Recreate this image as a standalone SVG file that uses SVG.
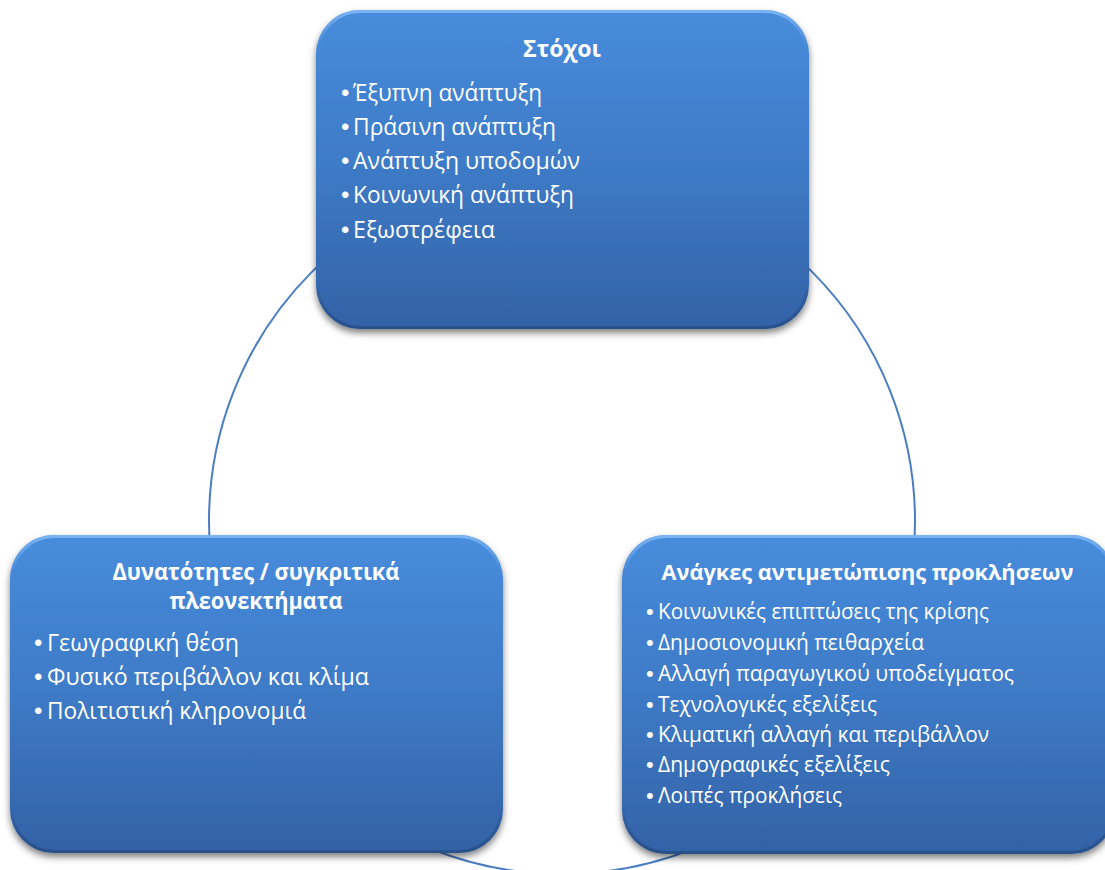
<svg xmlns="http://www.w3.org/2000/svg" width="1105" height="870" viewBox="0 0 1105 870">
<style>
.box{fill:url(#boxGrad);filter:url(#shadow)}
.bevel{fill:none;stroke:url(#bevelGrad);stroke-width:3}
.title{font-family:"Open Sans","Noto Sans","Liberation Sans",sans-serif;font-weight:bold;fill:#ffffff;text-anchor:middle}
.item{font-family:"Open Sans","Noto Sans","Liberation Sans",sans-serif;fill:#ffffff}
.b{font-family:"Liberation Sans",sans-serif;font-size:24px}
.br{font-family:"Liberation Sans",sans-serif;font-size:22px}
.t23{font-size:23px}
.t22{font-size:22px}
.i23{font-size:23px}
.i21{font-size:21px}
.conn{fill:none;stroke:#4a7ec2;stroke-width:2}
</style>
<defs>
<linearGradient id="boxGrad" x1="0" y1="0" x2="0" y2="1">
<stop offset="0" stop-color="#478cdc"/>
<stop offset="0.5" stop-color="#3e7ac6"/>
<stop offset="1" stop-color="#3362a6"/>
</linearGradient>
<linearGradient id="bevelGrad" x1="0" y1="0" x2="0" y2="1">
<stop offset="0" stop-color="#7fb8f6" stop-opacity="0.9"/>
<stop offset="0.12" stop-color="#6aa6ee" stop-opacity="0"/>
<stop offset="0.85" stop-color="#1f3f70" stop-opacity="0"/>
<stop offset="1" stop-color="#244a80" stop-opacity="0.7"/>
</linearGradient>
<filter id="shadow" x="-10%" y="-10%" width="120%" height="125%">
<feDropShadow dx="0" dy="4" stdDeviation="3.5" flood-color="#000000" flood-opacity="0.5"/>
</filter>
</defs>
<g id="connectors">
<circle class="conn" cx="562" cy="521" r="353"/>
</g>
<g id="node-goals">
<rect class="box" x="316" y="10" width="493" height="319" rx="44" ry="44"/>
<rect class="bevel" x="317.5" y="11.5" width="490" height="316" rx="43" ry="43"/>
<text class="title t23" x="562" y="57" textLength="78" lengthAdjust="spacingAndGlyphs">Στόχοι</text>
<text class="item i23" y="101"><tspan class="b" x="341">•</tspan><tspan x="353" textLength="189" lengthAdjust="spacingAndGlyphs">Έξυπνη ανάπτυξη</tspan></text>
<text class="item i23" y="135"><tspan class="b" x="341">•</tspan><tspan x="353" textLength="203" lengthAdjust="spacingAndGlyphs">Πράσινη ανάπτυξη</tspan></text>
<text class="item i23" y="169"><tspan class="b" x="341">•</tspan><tspan x="353" textLength="227" lengthAdjust="spacingAndGlyphs">Ανάπτυξη υποδομών</tspan></text>
<text class="item i23" y="203"><tspan class="b" x="341">•</tspan><tspan x="353" textLength="221" lengthAdjust="spacingAndGlyphs">Κοινωνική ανάπτυξη</tspan></text>
<text class="item i23" y="238"><tspan class="b" x="341">•</tspan><tspan x="353" textLength="142" lengthAdjust="spacingAndGlyphs">Εξωστρέφεια</tspan></text>
</g>
<g id="node-strengths">
<rect class="box" x="10" y="535" width="493" height="318" rx="44" ry="44"/>
<rect class="bevel" x="11.5" y="536.5" width="490" height="315" rx="43" ry="43"/>
<text class="title t23" x="256" y="580" textLength="287" lengthAdjust="spacingAndGlyphs">Δυνατότητες / συγκριτικά</text>
<text class="title t23" x="256" y="609" textLength="173" lengthAdjust="spacingAndGlyphs">πλεονεκτήματα</text>
<text class="item i23" y="651"><tspan class="b" x="34">•</tspan><tspan x="47" textLength="192" lengthAdjust="spacingAndGlyphs">Γεωγραφική θέση</tspan></text>
<text class="item i23" y="685"><tspan class="b" x="34">•</tspan><tspan x="47" textLength="322" lengthAdjust="spacingAndGlyphs">Φυσικό περιβάλλον και κλίμα</tspan></text>
<text class="item i23" y="719"><tspan class="b" x="34">•</tspan><tspan x="47" textLength="259" lengthAdjust="spacingAndGlyphs">Πολιτιστική κληρονομιά</tspan></text>
</g>
<g id="node-challenges">
<rect class="box" x="622" y="535" width="493" height="319" rx="44" ry="44"/>
<rect class="bevel" x="623.5" y="536.5" width="490" height="316" rx="43" ry="43"/>
<text class="title t22" x="867.5" y="580" textLength="412" lengthAdjust="spacingAndGlyphs">Ανάγκες αντιμετώπισης προκλήσεων</text>
<text class="item i21" y="619"><tspan class="br" x="646">•</tspan><tspan x="658" textLength="331" lengthAdjust="spacingAndGlyphs">Κοινωνικές επιπτώσεις της κρίσης</tspan></text>
<text class="item i21" y="650"><tspan class="br" x="646">•</tspan><tspan x="658" textLength="266" lengthAdjust="spacingAndGlyphs">Δημοσιονομική πειθαρχεία</tspan></text>
<text class="item i21" y="681"><tspan class="br" x="646">•</tspan><tspan x="658" textLength="356" lengthAdjust="spacingAndGlyphs">Αλλαγή παραγωγικού υποδείγματος</tspan></text>
<text class="item i21" y="712"><tspan class="br" x="646">•</tspan><tspan x="658" textLength="219" lengthAdjust="spacingAndGlyphs">Τεχνολογικές εξελίξεις</tspan></text>
<text class="item i21" y="742"><tspan class="br" x="646">•</tspan><tspan x="658" textLength="331" lengthAdjust="spacingAndGlyphs">Κλιματική αλλαγή και περιβάλλον</tspan></text>
<text class="item i21" y="772"><tspan class="br" x="646">•</tspan><tspan x="658" textLength="232" lengthAdjust="spacingAndGlyphs">Δημογραφικές εξελίξεις</tspan></text>
<text class="item i21" y="803"><tspan class="br" x="646">•</tspan><tspan x="658" textLength="184" lengthAdjust="spacingAndGlyphs">Λοιπές προκλήσεις</tspan></text>
</g>
</svg>
